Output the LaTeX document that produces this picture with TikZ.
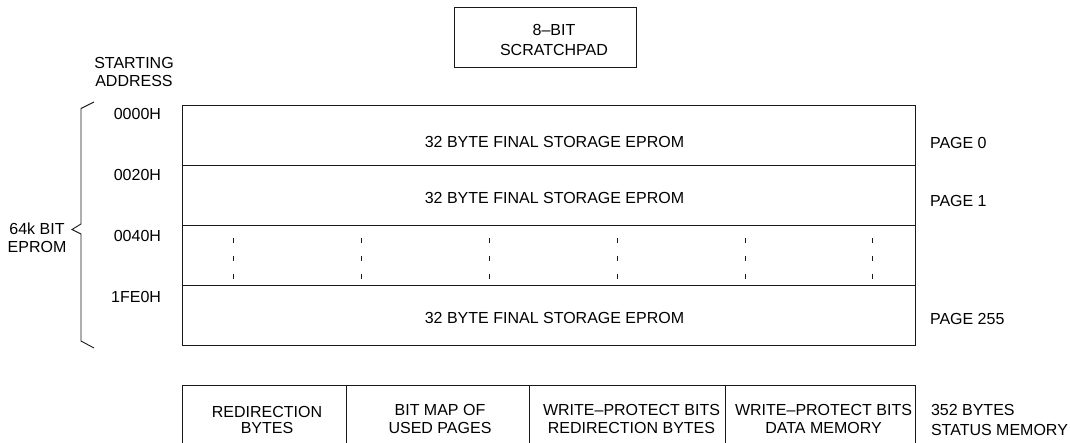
\documentclass[tikz,border=0pt]{standalone}
\usepackage{fontspec}
\setmainfont{Liberation Sans}
\begin{document}
\begin{tikzpicture}[x=1pt,y=-1pt,
  every node/.style={inner sep=0pt,outer sep=0pt,font=\fontsize{16}{18.2}\selectfont,align=center},
  cell/.style={draw=black!90,line width=0.9pt,minimum height=60pt,anchor=north west},
  lab/.style={anchor=center},
  leftlab/.style={anchor=west,align=left},
  addr/.style={anchor=east},
  lin/.style={draw=black!90,line width=0.9pt},
  dots/.style={draw=black!90,line width=0.9pt,dash pattern=on 5.5pt off 12.5pt}]
\useasboundingbox (0,0) rectangle (1070,443);
\clip (0,0) rectangle (1070,443);
% scratchpad
\node[cell,minimum width=182pt] (sp) at (454,7) {};
\node[lab,font=\fontsize{16}{19.5}\selectfont] (sptext) at (554,40) {8--BIT\\SCRATCHPAD};
\node[lab] (sa) at (134,72) {STARTING\\ADDRESS};
% pages
\node[cell,minimum width=733pt] (p0) at (182,105) {};
\node[cell,minimum width=733pt] (p1) at (182,165) {};
\node[cell,minimum width=733pt] (p2) at (182,225) {};
\node[cell,minimum width=733pt] (p3) at (182,285) {};
\node[lab] at (554.5,142) {32 BYTE FINAL STORAGE EPROM};
\node[lab] at (554.5,198) {32 BYTE FINAL STORAGE EPROM};
\node[lab] at (554.5,318) {32 BYTE FINAL STORAGE EPROM};
\node[leftlab] (l0) at (930,143) {PAGE 0};
\node[leftlab] (l1) at (930,200.5) {PAGE 1};
\node[leftlab] (l3) at (930,319) {PAGE 255};
\node[addr] (a0) at (161,114) {0000H};
\node[addr] (a1) at (161,175) {0020H};
\node[addr] (a2) at (161,236) {0040H};
\node[addr] (a3) at (161,297) {1FE0H};
\node[lab] (eprom) at (37,237.5) {64k BIT\\EPROM};
% brace
\draw[lin] (94,102) -- (81,108.5) -- (81,224) -- (72,229.5) -- (81,234) -- (81,341) -- (94,348);
% dashes
\foreach \x in {233,361,489,617,745,872}
  \draw[dots] (\x,238) -- (\x,280);
% status
\node[cell,minimum width=164pt,minimum height=70pt] (s0) at (182,385) {};
\node[cell,minimum width=183pt,minimum height=70pt] (s1) at (346,385) {};
\node[cell,minimum width=196pt,minimum height=70pt] (s2) at (529,385) {};
\node[cell,minimum width=190pt,minimum height=70pt] (s3) at (725,385) {};
\node[lab,font=\fontsize{16}{15.7}\selectfont] at (267,420) {REDIRECTION\\BYTES};
\node[lab,font=\fontsize{16}{17.3}\selectfont] at (440,419) {BIT MAP OF\\USED PAGES};
\node[lab,font=\fontsize{16}{17.3}\selectfont] at (631.5,419) {WRITE--PROTECT BITS\\REDIRECTION BYTES};
\node[lab,font=\fontsize{16}{17.3}\selectfont] at (823.5,419) {WRITE--PROTECT BITS\\DATA MEMORY};
\node[leftlab,font=\fontsize{16}{20.2}\selectfont] (st) at (931,420) {352 BYTES\\STATUS MEMORY};
\end{tikzpicture}
\end{document}
